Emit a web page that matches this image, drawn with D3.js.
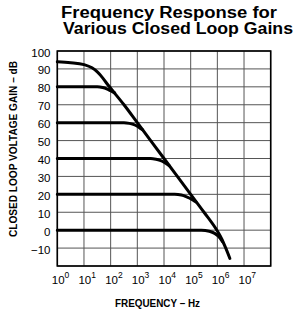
<!DOCTYPE html>
<html>
<head>
<meta charset="utf-8">
<script src="https://cdn.jsdelivr.net/npm/d3@7"></script>
<style>
  body { margin: 0; background: #fff; }
  text { font-family: "Liberation Sans", Arial, sans-serif; fill: #000; }
</style>
</head>
<body>
<svg width="301" height="318"></svg>
<script>
// points are [log10(freq), gain dB]
const openLoop = [[0, 94], [0.5, 93.5], [1, 92.4], [1.3, 90.6], [1.5, 88.3], [1.7, 85], [1.85, 82], [2, 79.2],
  [2.5, 70], [3, 60], [4, 40], [5, 20], [5.5, 10], [6, -0.5], [6.15, -4.5], [6.3, -9.5], [6.47, -15.8]];
const gain80 = [[0, 80], [1.5, 80], [1.7, 79.6], [1.85, 78.9], [2, 77.8], [2.15, 76.6]];
const gain60 = [[0, 60], [2.5, 60], [2.7, 59.6], [2.85, 59], [3, 58], [3.12, 56.8], [3.2, 56]];
const gain40 = [[0, 40], [3.5, 40], [3.7, 39.6], [3.85, 39], [4, 38], [4.12, 36.8], [4.2, 36]];
const gain20 = [[0, 20], [4.4, 20], [4.65, 19.6], [4.85, 18.6], [5, 17.6], [5.12, 16.4], [5.2, 15.7]];
const gain0 = [[0, 0], [5.4, 0], [5.7, -0.6], [5.9, -1.8], [6.05, -3.5], [6.2, -6.5]];
const curves = [openLoop, gain80, gain60, gain40, gain20, gain0];

const xDecades = [0, 1, 2, 3, 4, 5, 6, 7, 8];
const xLabels = [0, 1, 2, 3, 4, 5, 6, 7];
const yTicks = [100, 90, 80, 70, 60, 50, 40, 30, 20, 10, 0, -10];
const yGrid = [100, 90, 80, 70, 60, 50, 40, 30, 20, 10, 0, -10, -20];

const svg = d3.select("svg");
const pLeft = 57.3, pRight = 270.7, pTop = 51, pBottom = 266;

const x = d3.scaleLinear().domain([0, 8]).range([pLeft, pRight]);
const y = d3.scaleLinear().domain([-20, 100]).range([pBottom, pTop]);

// title
svg.append("text").attr("x", 61).attr("y", 18)
  .style("font-size", "16px").style("font-weight", "bold")
  .attr("textLength", 216).attr("lengthAdjust", "spacingAndGlyphs")
  .text("Frequency Response for");
svg.append("text").attr("x", 63).attr("y", 34)
  .style("font-size", "16px").style("font-weight", "bold")
  .attr("textLength", 230).attr("lengthAdjust", "spacingAndGlyphs")
  .text("Various Closed Loop Gains");

// grid
const grid = svg.append("g").attr("stroke", "#555").attr("stroke-width", 1);
grid.selectAll(".v").data(xDecades).enter().append("line")
  .attr("x1", d => x(d)).attr("x2", d => x(d))
  .attr("y1", pTop).attr("y2", pBottom);
grid.selectAll(".h").data(yGrid).enter().append("line")
  .attr("x1", pLeft).attr("x2", pRight)
  .attr("y1", d => y(d)).attr("y2", d => y(d));

svg.append("rect")
  .attr("x", pLeft).attr("y", pTop)
  .attr("width", pRight - pLeft).attr("height", pBottom - pTop)
  .attr("fill", "none").attr("stroke", "#000").attr("stroke-width", 1.6);

// y axis labels
svg.append("g").selectAll("text").data(yTicks).enter().append("text")
  .attr("x", 50.5).attr("y", d => y(d) + 5.5)
  .attr("text-anchor", "end")
  .style("font-size", "11.5px")
  .text(d => d < 0 ? "\u2212" + Math.abs(d) : d);

// x axis labels with superscripts
const xl = svg.append("g").selectAll("text").data(xLabels).enter().append("text")
  .attr("x", d => x(d) - 5.5).attr("y", 283.5)
  .style("font-size", "11.5px");
xl.append("tspan").text("10");
xl.append("tspan").attr("dy", -5.5).style("font-size", "8.5px").text(d => d);

svg.append("text")
  .attr("transform", "translate(17,149) rotate(-90)")
  .attr("text-anchor", "middle")
  .style("font-size", "10.5px").style("font-weight", "bold")
  .attr("textLength", 176).attr("lengthAdjust", "spacingAndGlyphs")
  .text("CLOSED LOOP VOLTAGE GAIN \u2013 dB");

svg.append("text")
  .attr("x", 157.5).attr("y", 306.7)
  .attr("text-anchor", "middle")
  .style("font-size", "10.5px").style("font-weight", "bold")
  .attr("textLength", 85).attr("lengthAdjust", "spacingAndGlyphs")
  .text("FREQUENCY \u2013 Hz");

// curves
const line = d3.line()
  .x(d => x(d[0]))
  .y(d => y(d[1]))
  .curve(d3.curveMonotoneX);

svg.append("g").selectAll("path").data(curves).enter().append("path")
  .attr("d", line)
  .attr("fill", "none")
  .attr("stroke", "#000")
  .attr("stroke-width", 3)
  .attr("stroke-linecap", "round");
</script>
</body>
</html>
